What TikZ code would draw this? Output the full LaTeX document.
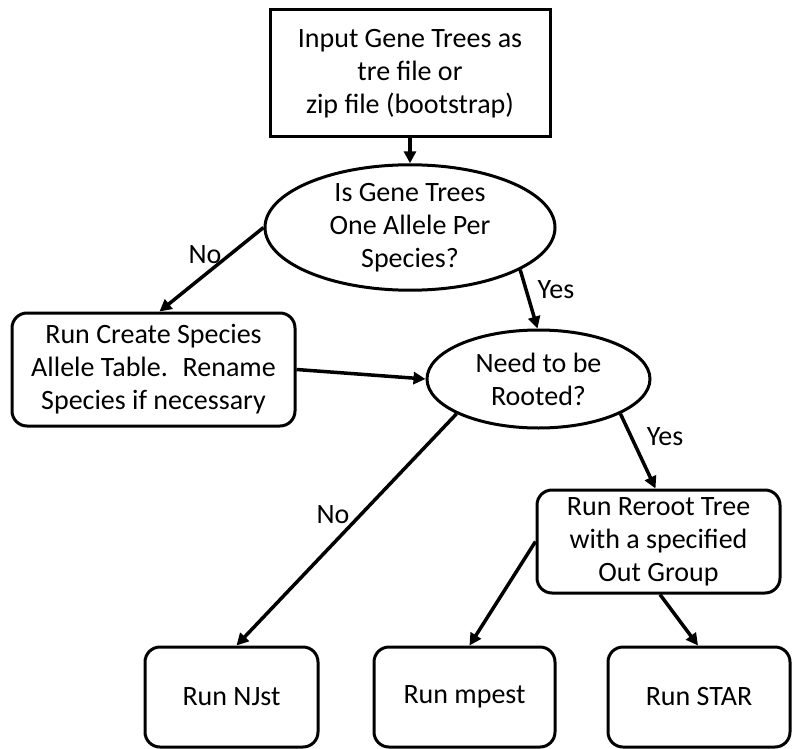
\documentclass[tikz,border=0pt]{standalone}
\usepackage{fontspec}
\setmainfont{Carlito}
\usetikzlibrary{shapes.geometric,arrows.meta}
\begin{document}
\begin{tikzpicture}[x=1pt,y=-1pt,
  txt/.style={font=\fontsize{28}{33}\selectfont},
  base/.style={txt,draw=black,line width=3pt,align=center,inner sep=0pt},
  sqbox/.style={base,rectangle},
  rbox/.style={base,rectangle,rounded corners=15pt},
  oval/.style={base,ellipse},
  arr/.style={line width=3.5pt,-{Triangle[length=12pt,width=12pt]}},
  lbl/.style={txt,inner sep=0pt}
]
\useasboundingbox (0,0) rectangle (792,749);

\node[sqbox,minimum width=280pt,minimum height=127pt] (top) at (410,73.5)
  {Input Gene Trees as\\tre file or\\zip file (bootstrap)};
\node[oval,minimum width=290pt,minimum height=115pt] (e1) at (410,227.5)
  {Is Gene Trees\\One Allele Per\\Species?};
\node[rbox,minimum width=283pt,minimum height=113pt] (create) at (153.5,369.5)
  {Run Create Species\\Allele Table.~ Rename\\Species if necessary};
\node[oval,minimum width=223pt,minimum height=98pt] (e2) at (538.5,379)
  {Need to be\\Rooted?};
\node[rbox,minimum width=243pt,minimum height=103pt] (reroot) at (658.5,541.5)
  {Run Reroot Tree\\with a specified\\Out Group};
\node[rbox,minimum width=173pt,minimum height=100pt] (njst) at (231.5,697) {Run NJst};
\node[rbox,minimum width=181pt,minimum height=100pt] (mpest) at (464.5,697) {Run mpest};
\node[rbox,minimum width=182pt,minimum height=100pt] (star) at (699,697) {Run STAR};

\draw[arr] (top.south) -- (e1.north);
\draw[arr] (e1.west) -- ([xshift=6pt]create.north);
\draw[arr] (e1.-21.5) -- ([xshift=-1pt]e2.north);
\draw[arr] (create.east) -- (e2.west);
\draw[arr] (e2.203.8) -- ([xshift=5pt]njst.north);
\draw[arr] (e2.-23.4) -- ([xshift=-3pt]reroot.north);
\draw[arr] (reroot.west) -- ([xshift=5pt]mpest.north);
\draw[arr] ([xshift=1.5pt]reroot.south) -- ([xshift=-1pt]star.north);

\node[lbl] (no1) at (205,255) {No};
\node[lbl] (yes1) at (556,290) {Yes};
\node[lbl] (no2) at (333,515) {No};
\node[lbl] (yes2) at (665,437) {Yes};
\end{tikzpicture}
\end{document}
